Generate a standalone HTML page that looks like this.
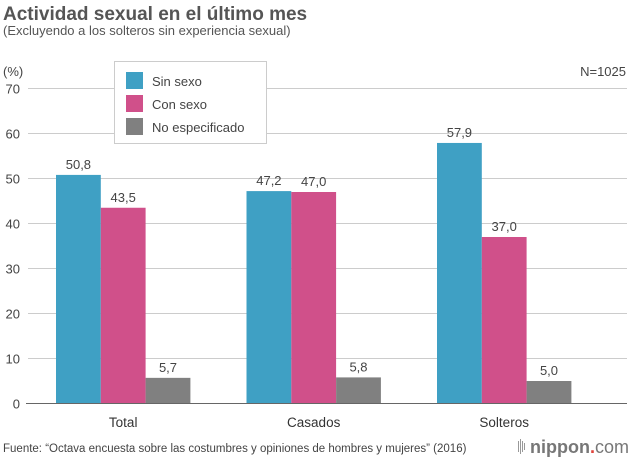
<!DOCTYPE html>
<html><head><meta charset="utf-8"><style>
body{margin:0;background:#fff;font-family:"Liberation Sans",sans-serif;}
svg text{font-family:"Liberation Sans",sans-serif;}
</style></head><body>
<svg width="640" height="460" xmlns="http://www.w3.org/2000/svg" id="chart">
<text x="3" y="20" font-size="19" font-weight="bold" fill="#555">Actividad sexual en el último mes</text>
<text x="3" y="35" font-size="13" fill="#555">(Excluyendo a los solteros sin experiencia sexual)</text>
<text x="3" y="76" font-size="13" fill="#444">(%)</text>
<text x="626" y="76" font-size="13" fill="#444" text-anchor="end">N=1025</text>
<g id="grid"></g>
<g id="bars"></g>
<line x1="26" x2="627" y1="403.5" y2="403.5" stroke="#666" stroke-width="1"/>
<g>
<rect x="114.5" y="61.5" width="152" height="82" fill="#fff" stroke="#ccc"/>
<rect x="126" y="72" width="17" height="17" fill="#3fa0c4"/>
<text x="152" y="86" font-size="13" fill="#444">Sin sexo</text>
<rect x="126" y="95" width="17" height="17" fill="#d0508a"/>
<text x="152" y="109" font-size="13" fill="#444">Con sexo</text>
<rect x="126" y="118" width="17" height="17" fill="#808080"/>
<text x="152" y="132" font-size="13" fill="#444">No especificado</text>
</g>
<text x="3" y="452" font-size="11.5" fill="#444">Fuente: “Octava encuesta sobre las costumbres y opiniones de hombres y mujeres” (2016)</text>
<g>
<rect x="518" y="441" width="1" height="11" fill="#999"/><rect x="520" y="439" width="1" height="15" fill="#999"/><rect x="522" y="441" width="1" height="11" fill="#999"/><rect x="524" y="443" width="1" height="7" fill="#999"/>
<text x="530" y="453" font-size="18" fill="#777" font-weight="bold">nippon<tspan fill="#e0443c">.</tspan><tspan font-weight="normal">com</tspan></text>
</g>
</svg>
<script>
const categories = ["Total", "Casados", "Solteros"];
const sinSexo = [50.8, 47.2, 57.9];
const conSexo = [43.5, 47.0, 37.0];
const noEspecificado = [5.7, 5.8, 5.0];
const yTicks = [0, 10, 20, 30, 40, 50, 60, 70];

const NS = "http://www.w3.org/2000/svg";
const y0 = 403.5, yTop = 88.5, yMax = 70;
function yScale(v){ return y0 - (v / yMax) * (y0 - yTop); }
function xGroup(i){ return 56 + i * 190.5; }
const barW = 44.8;
const grid = document.getElementById("grid");
yTicks.forEach(t => {
  const y = yScale(t);
  if (t > 0) {
    const l = document.createElementNS(NS, "line");
    l.setAttribute("x1", 28); l.setAttribute("x2", 627);
    l.setAttribute("y1", y); l.setAttribute("y2", y);
    l.setAttribute("stroke", "#ccc");
    
    
    grid.appendChild(l);
  }
  const tx = document.createElementNS(NS, "text");
  tx.setAttribute("x", 20); tx.setAttribute("y", y + 5);
  tx.setAttribute("font-size", "13"); tx.setAttribute("fill", "#444");
  tx.setAttribute("text-anchor", "end");
  tx.textContent = t;
  
  
  grid.appendChild(tx);
});
const bars = document.getElementById("bars");
const series = [sinSexo, conSexo, noEspecificado];
const colors = ["#3fa0c4", "#d0508a", "#808080"];
function fmt(v){ return v.toFixed(1).replace(".", ","); }
categories.forEach((c, i) => {
  series.forEach((s, k) => {
    const x = xGroup(i) + k * barW;
    const y = yScale(s[i]);
    const r = document.createElementNS(NS, "rect");
    r.setAttribute("x", x); r.setAttribute("y", y);
    r.setAttribute("width", barW); r.setAttribute("height", y0 - y);
    r.setAttribute("fill", colors[k]);
    
    
    bars.appendChild(r);
    const t = document.createElementNS(NS, "text");
    t.setAttribute("x", x + barW / 2); t.setAttribute("y", y - 6);
    t.setAttribute("text-anchor", "middle");
    t.setAttribute("font-size", "13"); t.setAttribute("fill", "#444");
    t.textContent = fmt(s[i]);
    
    
    bars.appendChild(t);
  });
  const lt = document.createElementNS(NS, "text");
  lt.setAttribute("x", xGroup(i) + barW * 1.5); lt.setAttribute("y", 427);
  lt.setAttribute("text-anchor", "middle");
  lt.setAttribute("font-size", "13.5"); lt.setAttribute("fill", "#333");
  lt.textContent = c;
  
  
  bars.appendChild(lt);
});
</script>
</body></html>
